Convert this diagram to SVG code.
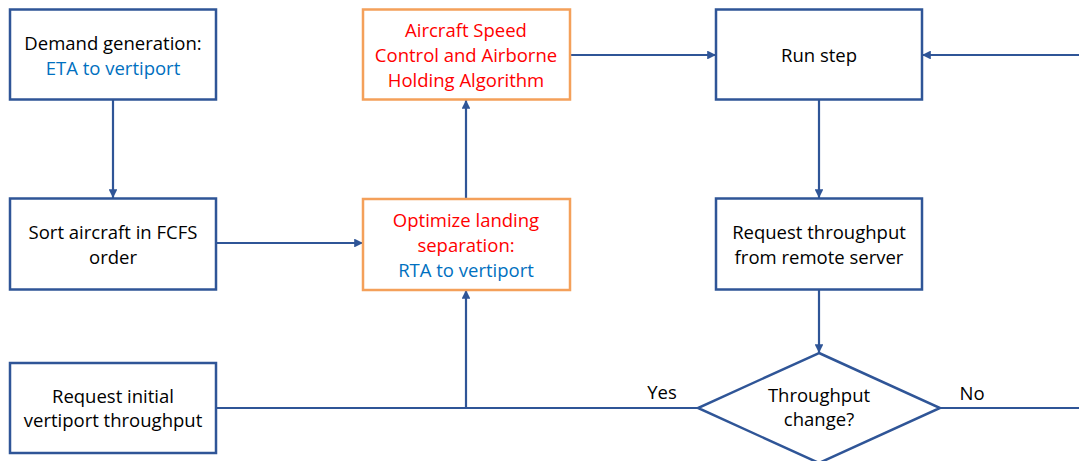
<svg xmlns="http://www.w3.org/2000/svg" width="1079" height="461" viewBox="0 0 1079 461">
<defs>
<style>
.box{fill:#fff;stroke:#2F5597;stroke-width:2.5}
.obox{fill:#fff;stroke:#F4A05A;stroke-width:2.5}
.t{font-family:"Open Sans","Liberation Sans",sans-serif;font-size:18.5px;text-anchor:middle;dominant-baseline:central;fill:#000}
.r{fill:#FF0000}
.b{fill:#0070C0}
.c{fill:none;stroke:#2F5597;stroke-width:2.2}
</style>
<marker id="ah" viewBox="0 0 10 10" refX="10" refY="5" markerWidth="4" markerHeight="4" orient="auto" markerUnits="strokeWidth">
<path d="M0,0 L10,5 L0,10 z" fill="#2F5597"/>
</marker>
</defs>
<rect width="1079" height="461" fill="#fff"/>
<g id="connectors">
<line class="c" x1="113" y1="100" x2="113" y2="198" marker-end="url(#ah)"/>
<line class="c" x1="216" y1="243" x2="363" y2="243" marker-end="url(#ah)"/>
<line class="c" x1="466" y1="199" x2="466" y2="100" marker-end="url(#ah)"/>
<line class="c" x1="570" y1="55" x2="716" y2="55" marker-end="url(#ah)"/>
<line class="c" x1="1079" y1="55" x2="922" y2="55" marker-end="url(#ah)"/>
<line class="c" x1="819" y1="100" x2="819" y2="198" marker-end="url(#ah)"/>
<line class="c" x1="819" y1="290" x2="819" y2="353" marker-end="url(#ah)"/>
<line class="c" x1="216" y1="408" x2="698" y2="408"/>
<line class="c" x1="466" y1="408" x2="466" y2="290" marker-end="url(#ah)"/>
<line class="c" x1="940" y1="408" x2="1079" y2="408"/>
<text class="t" x="662" y="391">Yes</text>
<text class="t" x="972" y="392">No</text>
</g>
<g id="demand">
<rect class="box" x="10" y="9.5" width="206" height="90"/>
<text class="t" x="113" y="42">Demand generation:</text>
<text class="t b" x="113" y="67">ETA to vertiport</text>
</g>
<g id="speed">
<rect class="obox" x="363" y="9.5" width="207" height="90"/>
<text class="t r" x="466" y="29.5">Aircraft Speed</text>
<text class="t r" x="466" y="54">Control and Airborne</text>
<text class="t r" x="466" y="79">Holding Algorithm</text>
</g>
<g id="runstep">
<rect class="box" x="716" y="9.5" width="206" height="90"/>
<text class="t" x="819" y="54">Run step</text>
</g>
<g id="sort">
<rect class="box" x="10" y="198.5" width="206" height="91"/>
<text class="t" x="113" y="231">Sort aircraft in FCFS</text>
<text class="t" x="113" y="256">order</text>
</g>
<g id="optimize">
<rect class="obox" x="363" y="199" width="207" height="91"/>
<text class="t r" x="466" y="219.5">Optimize landing</text>
<text class="t r" x="466" y="244">separation:</text>
<text class="t b" x="466" y="269">RTA to vertiport</text>
</g>
<g id="request-remote">
<rect class="box" x="716" y="198.5" width="206" height="91"/>
<text class="t" x="819" y="231">Request throughput</text>
<text class="t" x="819" y="256">from remote server</text>
</g>
<g id="request-initial">
<rect class="box" x="10" y="363" width="206" height="90"/>
<text class="t" x="113" y="395">Request initial</text>
<text class="t" x="113" y="419">vertiport throughput</text>
</g>
<g id="decision">
<polygon class="box" points="819,353 940,408 819,463 698,408"/>
<text class="t" x="819" y="394">Throughput</text>
<text class="t" x="819" y="418">change?</text>
</g>
</svg>
